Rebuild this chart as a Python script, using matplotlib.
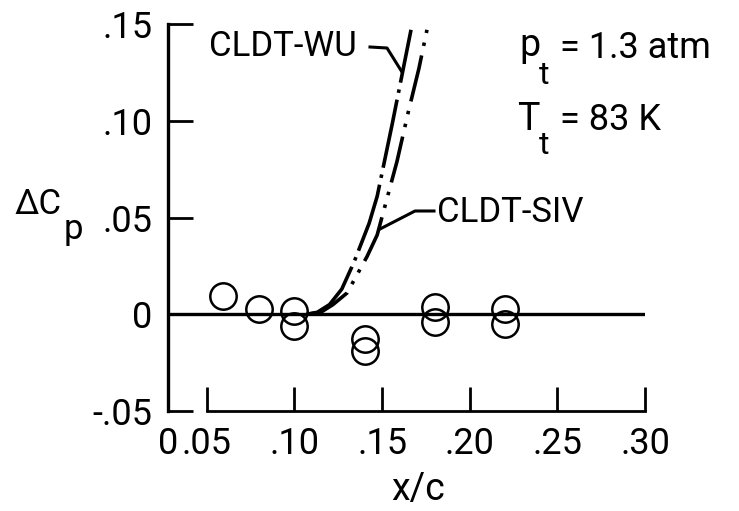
import matplotlib
matplotlib.use("Agg")
import matplotlib.pyplot as plt
from matplotlib.lines import Line2D

plt.rcParams['font.family'] = ['Roboto', 'DejaVu Sans']
plt.rcParams['lines.scale_dashes'] = False

# ---- data ----
x_data = [0.059, 0.080, 0.100, 0.100, 0.140, 0.140, 0.180, 0.180, 0.220, 0.220]
y_data = [0.0094, 0.0026, 0.0016, -0.0063, -0.013, -0.019, 0.0036, -0.0042, 0.0026, -0.0052]

wu_x = [0.107, 0.113, 0.120, 0.127, 0.134, 0.1426, 0.1472, 0.1557, 0.1665]
wu_y = [0.0, 0.001, 0.005, 0.013, 0.027, 0.047, 0.061, 0.098, 0.147]

siv_x = [0.107, 0.115, 0.122, 0.130, 0.1415, 0.1472, 0.1585, 0.1648, 0.171, 0.1756]
siv_y = [0.0, 0.001, 0.005, 0.011, 0.030, 0.041, 0.079, 0.104, 0.127, 0.147]

x_ticks = [0.05, 0.10, 0.15, 0.20, 0.25, 0.30]
x_ticklabels = ['.05', '.10', '.15', '.20', '.25', '.30']
y_ticks = [-0.05, 0.0, 0.05, 0.10, 0.15]
y_ticklabels = ['-.05', '0', '.05', '.10', '.15']

W, H = 739, 511
fig = plt.figure(figsize=(W / 100, H / 100), dpi=100)

x_left = 0.05 - 39 / 1760.0  # position of broken-axis origin
ax = fig.add_axes([168 / W, 1 - 411 / H, (645 - 168) / W, (411 - 24) / H])
ax.set_xlim(x_left, 0.30)
ax.set_ylim(-0.05, 0.15)

for s in ['top', 'right']:
    ax.spines[s].set_visible(False)
ax.spines['left'].set_linewidth(2.4)
ax.spines['bottom'].set_linewidth(2.0)
ax.spines['bottom'].set_bounds(0.05, 0.30)

ax.set_xticks([x_left] + x_ticks)
ax.set_xticklabels(['0'] + x_ticklabels)
ax.set_yticks(y_ticks)
ax.set_yticklabels(y_ticklabels)
ax.tick_params(axis='x', direction='in', length=17, width=2, pad=11, labelsize=26)
ax.tick_params(axis='y', direction='in', length=18, width=2, pad=11, labelsize=26)

# zero line
ax.axhline(0.0, xmin=0, xmax=1, color='black', lw=2.4, zorder=2)

# curves
ax.plot(wu_x, wu_y, color='black', lw=2.6, dashes=(50, 5, 2.5, 5),
        dash_capstyle='butt', zorder=3)
ax.plot(siv_x, siv_y, color='black', lw=2.6, dashes=(34, 7, 2.5, 7, 2.5, 7),
        dash_capstyle='butt', zorder=3)

# data points
ax.plot(x_data, y_data, linestyle='none', marker='o', markersize=19,
        markerfacecolor='none', markeredgecolor='black', markeredgewidth=1.8,
        zorder=4)


def fp(px, py):
    return (px / W, 1 - py / H)


# leader lines
wu_lead = [fp(370, 47), fp(387, 48), fp(402, 72)]
siv_lead = [fp(434, 211), fp(415, 211), fp(380, 229)]
for pts in (wu_lead, siv_lead):
    xs, ys = zip(*pts)
    fig.add_artist(Line2D(xs, ys, color='black', lw=2.2))

# text
fig.text(*fp(209, 46), 'CLDT-WU', fontsize=25, ha='left', va='center')
fig.text(*fp(437, 212), 'CLDT-SIV', fontsize=25, ha='left', va='center')

fig.text(*fp(519, 46), 'p', fontsize=27, ha='left', va='center')
fig.text(*fp(539, 76), 't', fontsize=23, ha='left', va='center')
fig.text(*fp(560, 48), '= 1.3 atm', fontsize=26, ha='left', va='center')

fig.text(*fp(517, 119), 'T', fontsize=27, ha='left', va='center')
fig.text(*fp(539, 146), 't', fontsize=23, ha='left', va='center')
fig.text(*fp(560, 120), '= 83 K', fontsize=26, ha='left', va='center')

fig.text(*fp(14, 205), 'ΔC', fontsize=25, ha='left', va='center')
fig.text(*fp(64, 230), 'p', fontsize=25, ha='left', va='center')

fig.text(*fp(418, 490), 'x/c', fontsize=27, ha='center', va='center')

fig.savefig('out.png', dpi=100)
